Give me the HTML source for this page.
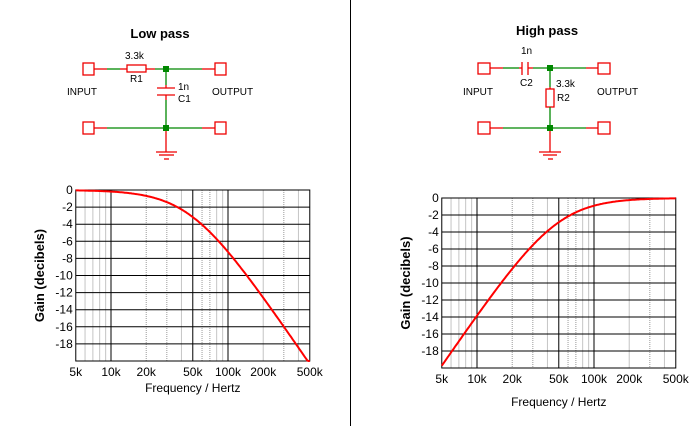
<!DOCTYPE html>
<html><head><meta charset="utf-8"><style>
html,body{margin:0;padding:0;background:#fff;width:700px;height:426px;overflow:hidden}
svg{display:block}
text{font-family:"Liberation Sans",Arial,sans-serif;font-size:12px;fill:#000}
</style></head><body>
<svg id="s" width="700" height="426" viewBox="0 0 700 426" xmlns="http://www.w3.org/2000/svg">
<line x1="350.5" y1="0" x2="350.5" y2="426" stroke="#000"/>
<text x="160" y="38" text-anchor="middle" style="font-weight:bold;font-size:13px">Low pass</text>
<g fill="none" stroke-width="1.3">
<rect x="83" y="63" width="11" height="12" stroke="#e00"/>
<rect x="215" y="63" width="11" height="12" stroke="#e00"/>
<rect x="83" y="122" width="11" height="12" stroke="#e00"/>
<rect x="215" y="122" width="11" height="12" stroke="#e00"/>
<line x1="94" y1="69" x2="107" y2="69" stroke="#e00"/>
<line x1="107" y1="69" x2="120" y2="69" stroke="#080"/>
<line x1="120" y1="69" x2="127" y2="69" stroke="#e00"/>
<rect x="127" y="65" width="19" height="7" stroke="#e00"/>
<line x1="146" y1="69" x2="155" y2="69" stroke="#e00"/>
<line x1="155" y1="69" x2="202" y2="69" stroke="#080"/>
<line x1="202" y1="69" x2="215" y2="69" stroke="#e00"/>
<line x1="166" y1="69" x2="166" y2="85" stroke="#080"/>
<line x1="166" y1="85" x2="166" y2="88" stroke="#e00"/>
<line x1="157" y1="88" x2="175" y2="88" stroke="#e00"/>
<line x1="157" y1="95" x2="175" y2="95" stroke="#e00"/>
<line x1="166" y1="95" x2="166" y2="100" stroke="#e00"/>
<line x1="166" y1="100" x2="166" y2="128" stroke="#080"/>
<line x1="94" y1="128" x2="107" y2="128" stroke="#e00"/>
<line x1="107" y1="128" x2="202" y2="128" stroke="#080"/>
<line x1="202" y1="128" x2="215" y2="128" stroke="#e00"/>
<line x1="166" y1="128" x2="166" y2="152" stroke="#e00"/>
<line x1="156" y1="152" x2="177" y2="152" stroke="#e00"/>
<line x1="159" y1="155" x2="174" y2="155" stroke="#e00"/>
<line x1="164" y1="159" x2="169" y2="159" stroke="#e00"/>
</g>
<rect x="163" y="66" width="6" height="6" fill="#080"/>
<rect x="163" y="125" width="6" height="6" fill="#080"/>
<text x="125" y="59" style="font-size:10px">3.3k</text>
<text x="130" y="82" style="font-size:10px">R1</text>
<text x="178" y="90" style="font-size:10px">1n</text>
<text x="178" y="102" style="font-size:10px">C1</text>
<text x="67" y="95" style="font-size:10px">INPUT</text>
<text x="212" y="95" style="font-size:10px">OUTPUT</text>
<text x="547" y="35" text-anchor="middle" style="font-weight:bold;font-size:13px">High pass</text>
<g fill="none" stroke-width="1.3">
<rect x="478" y="63" width="12" height="11" stroke="#e00"/>
<rect x="598" y="63" width="12" height="11" stroke="#e00"/>
<rect x="478" y="122" width="12" height="12" stroke="#e00"/>
<rect x="598" y="122" width="12" height="12" stroke="#e00"/>
<line x1="490" y1="68" x2="503" y2="68" stroke="#e00"/>
<line x1="503" y1="68" x2="519" y2="68" stroke="#080"/>
<line x1="519" y1="68" x2="522" y2="68" stroke="#e00"/>
<line x1="522" y1="62" x2="522" y2="75" stroke="#e00"/>
<line x1="528" y1="62" x2="528" y2="75" stroke="#e00"/>
<line x1="528" y1="68" x2="533" y2="68" stroke="#e00"/>
<line x1="533" y1="68" x2="586" y2="68" stroke="#080"/>
<line x1="586" y1="68" x2="598" y2="68" stroke="#e00"/>
<line x1="550" y1="68" x2="550" y2="87" stroke="#080"/>
<rect x="546" y="89" width="8" height="18" stroke="#e00"/>
<line x1="550" y1="87" x2="550" y2="89" stroke="#e00"/>
<line x1="550" y1="107" x2="550" y2="128" stroke="#080"/>
<line x1="490" y1="128" x2="503" y2="128" stroke="#e00"/>
<line x1="503" y1="128" x2="586" y2="128" stroke="#080"/>
<line x1="586" y1="128" x2="598" y2="128" stroke="#e00"/>
<line x1="550" y1="128" x2="550" y2="152" stroke="#e00"/>
<line x1="539" y1="152" x2="561" y2="152" stroke="#e00"/>
<line x1="543" y1="155" x2="557" y2="155" stroke="#e00"/>
<line x1="548" y1="159" x2="553" y2="159" stroke="#e00"/>
</g>
<rect x="547" y="65" width="6" height="6" fill="#080"/>
<rect x="547" y="125" width="6" height="6" fill="#080"/>
<text x="521" y="54" style="font-size:10px">1n</text>
<text x="520" y="86" style="font-size:10px">C2</text>
<text x="556" y="87" style="font-size:10px">3.3k</text>
<text x="557" y="101" style="font-size:10px">R2</text>
<text x="463" y="95" style="font-size:10px">INPUT</text>
<text x="597" y="95" style="font-size:10px">OUTPUT</text>
<g id="charts"></g>
</svg>
<script>
(function(){
var NS="http://www.w3.org/2000/svg",g=document.getElementById("charts");
function el(t,a,txt){var e=document.createElementNS(NS,t);for(var k in a)e.setAttribute(k,a[k]);if(txt!=null)e.textContent=txt;g.appendChild(e);return e;}
function chart(o){
 var X=function(f){return o.x10+o.dec*Math.log10(f/10000);};
 var Y=function(d){return o.y0+(-d)*o.dy;};
 var x0=X(5000),x1=X(500000),yt=Y(0),yb=Y(-20);
 var minors=[6000,7000,8000,9000,20000,30000,40000,60000,70000,80000,90000,200000,300000,400000];
 var dotted={20000:1,30000:1,60000:1,70000:1,300000:1};
 minors.forEach(function(f){var a={x1:X(f),x2:X(f),y1:yt,y2:yb,stroke:dotted[f]?"#999":"#c4c4c4","stroke-width":1};if(dotted[f])a["stroke-dasharray"]="1,1";el("line",a);});
 for(var d=-2;d>=-18;d-=2)el("line",{x1:x0,x2:x1,y1:Y(d),y2:Y(d),stroke:"#000","stroke-width":1});
 [10000,50000,100000].forEach(function(f){el("line",{x1:X(f),x2:X(f),y1:yt,y2:yb,stroke:"#000","stroke-width":1});});
 el("rect",{x:x0,y:yt,width:x1-x0,height:yb-yt,fill:"none",stroke:"#000","stroke-width":1});
 for(var d=0;d>=-18;d-=2)el("text",{x:x0-3,y:Y(d)+4,"text-anchor":"end"},String(d));
 [[5000,"5k"],[10000,"10k"],[20000,"20k"],[50000,"50k"],[100000,"100k"],[200000,"200k"],[500000,"500k"]].forEach(function(p){el("text",{x:X(p[0]),y:yb+15,"text-anchor":"middle"},p[1]);});
 el("text",{x:(x0+x1)/2,y:yb+o.fo,"text-anchor":"middle"},"Frequency / Hertz");
 el("text",{transform:"translate("+o.lx+","+((yt+yb)/2)+") rotate(-90)","text-anchor":"middle",style:"font-weight:bold;font-size:13px"},"Gain (decibels)");
 var fc=1/(2*Math.PI*3300*1e-9),pts=[];
 for(var i=0;i<=200;i++){var f=5000*Math.pow(100,i/200);var r=o.hp?fc/f:f/fc;var db=-10*Math.log10(1+r*r);pts.push(X(f).toFixed(1)+","+Y(Math.max(db,-20)).toFixed(1));}
 el("polyline",{points:pts.join(" "),fill:"none",stroke:"#f00","stroke-width":2});
}
chart({x10:111,dec:117,y0:190,dy:8.55,lx:44,fo:31});
chart({x10:477,dec:117,y0:198,dy:8.5,lx:410,hp:true,fo:38});
})();
</script>
</body></html>
